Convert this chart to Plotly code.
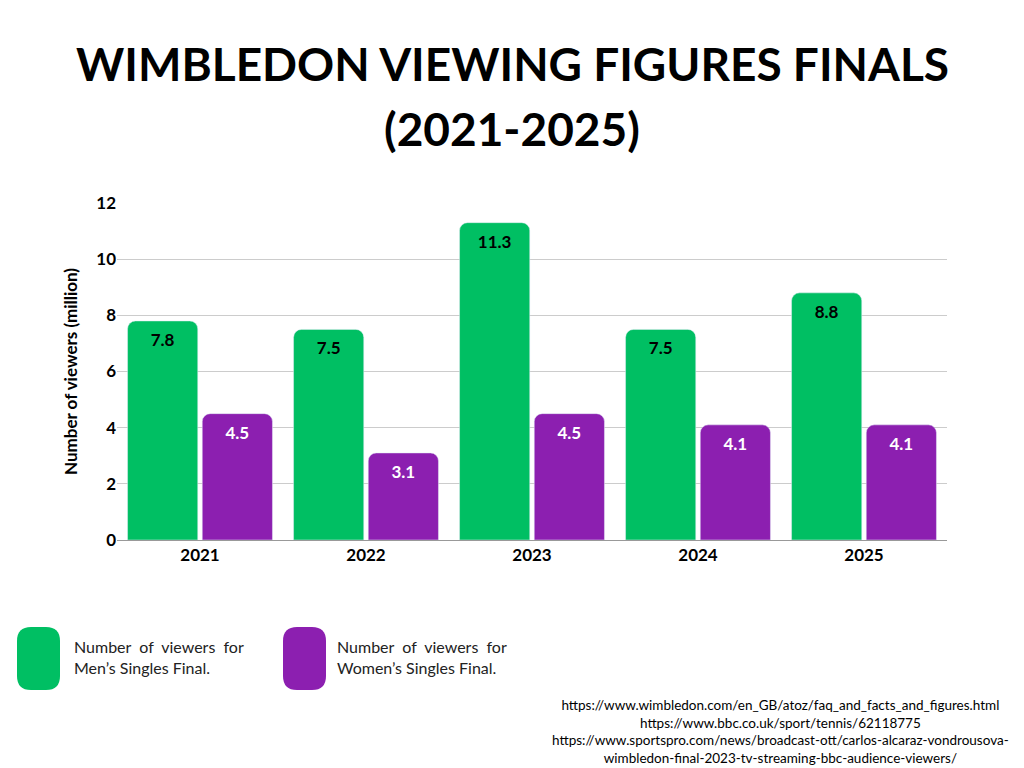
import plotly.graph_objects as go

years = ["2021", "2022", "2023", "2024", "2025"]
mens = [7.8, 7.5, 11.3, 7.5, 8.8]
womens = [4.5, 3.1, 4.5, 4.1, 4.1]
green = "#00BF63"
purple = "#8C1FB0"

OFF = 8  # page body margin
W, H = 1024 - OFF, 768 - OFF
L, R, T, B = 117 - OFF, 947 - OFF, 203 - OFF, 540 - OFF
def px(x): return (x - OFF - L) / (R - L)
def py(y): return (B - (y - OFF)) / (B - T)

fig = go.Figure()
fig.add_bar(x=years, y=mens, name="Men", marker=dict(color=green, cornerradius=8),
            text=[f"{v}" for v in mens], textposition="inside", insidetextanchor="end",
            textfont=dict(color="black", size=17, family="Lato", weight="bold"))
fig.add_bar(x=years, y=womens, name="Women", marker=dict(color=purple, cornerradius=8),
            text=[f"{v}" for v in womens], textposition="inside", insidetextanchor="end",
            textfont=dict(color="white", size=17, family="Lato", weight="bold"))

fig.update_layout(
    width=W, height=H, barmode="group", bargap=0.1, bargroupgap=0.06,
    margin=dict(l=L, r=W - R, t=T, b=H - B, autoexpand=False),
    plot_bgcolor="white", paper_bgcolor="white", showlegend=False,
    font=dict(family="Lato", color="black"),
    uniformtext=dict(minsize=10, mode="show"),
)
fig.update_yaxes(range=[0, 12], dtick=2, gridcolor="#cccccc", zeroline=False, automargin=False,
                 tickfont=dict(size=17, weight="bold"), ticks="", ticklen=0,
                 title=dict(text="<b>Number of viewers (million)</b>", font=dict(size=17), standoff=14))
fig.update_xaxes(tickfont=dict(size=17, weight="bold"), showline=True, linecolor="#999999",
                 automargin=False)

for i, line in enumerate(["WIMBLEDON VIEWING FIGURES FINALS", "(2021-2025)"]):
    fig.add_annotation(xref="paper", yref="paper", x=px(512), y=py(63 + 66 * i),
                       text=f"<b>{line}</b>", showarrow=False, xanchor="center", yanchor="middle",
                       font=dict(size=46, family="Lato", color="black"))

def rounded(x0, x1, y0, y1, r):
    # y0 top px, y1 bottom px, r px
    X = lambda v: px(v)
    Y = lambda v: py(v)
    return (f"M {X(x0+r)} {Y(y0)} L {X(x1-r)} {Y(y0)} Q {X(x1)} {Y(y0)} {X(x1)} {Y(y0+r)} "
            f"L {X(x1)} {Y(y1-r)} Q {X(x1)} {Y(y1)} {X(x1-r)} {Y(y1)} "
            f"L {X(x0+r)} {Y(y1)} Q {X(x0)} {Y(y1)} {X(x0)} {Y(y1-r)} "
            f"L {X(x0)} {Y(y0+r)} Q {X(x0)} {Y(y0)} {X(x0+r)} {Y(y0)} Z")

for x0, x1, c in [(17, 60, green), (283, 326, purple)]:
    fig.add_shape(type="path", xref="paper", yref="paper", path=rounded(x0, x1, 627, 690, 14),
                  fillcolor=c, line=dict(width=0))
for x, txt in [(72, "Number  of  viewers  for<br>Men’s Singles Final."),
               (335, "Number  of  viewers  for<br>Women’s Singles Final.")]:
    fig.add_annotation(xref="paper", yref="paper", x=px(x), y=py(657), text=txt,
                       showarrow=False, xanchor="left", yanchor="middle", align="left",
                       font=dict(size=16, family="Lato", color="#222222"))

fig.add_annotation(xref="paper", yref="paper", x=px(780), y=py(731),
                   text="https://www.wimbledon.com/en_GB/atoz/faq_and_facts_and_figures.html<br>"
                        "https://www.bbc.co.uk/sport/tennis/62118775<br>"
                        "https://www.sportspro.com/news/broadcast-ott/carlos-alcaraz-vondrousova-<br>"
                        "wimbledon-final-2023-tv-streaming-bbc-audience-viewers/",
                   showarrow=False, xanchor="center", yanchor="middle", align="center",
                   font=dict(size=13.5, family="Lato", color="black"))

fig.write_html("out.html")
